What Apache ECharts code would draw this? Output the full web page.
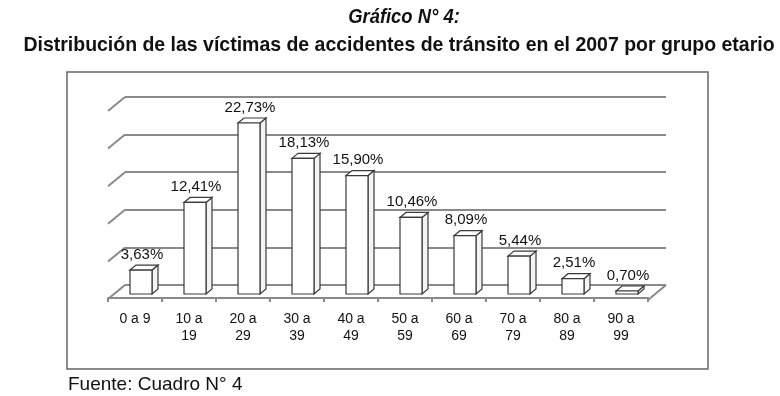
<!DOCTYPE html>
<html>
<head>
<meta charset="utf-8">
<script src="https://cdn.jsdelivr.net/npm/echarts@6/dist/echarts.min.js"></script>
<style>
  html, body { margin: 0; padding: 0; background: #fff; }
  #chart { width: 780px; height: 396px; }
</style>
</head>
<body>
<div id="chart"></div>
<script>
// datos del grafico
const grupos = ["0 a 9", "10 a\n19", "20 a\n29", "30 a\n39", "40 a\n49", "50 a\n59", "60 a\n69", "70 a\n79", "80 a\n89", "90 a\n99"];
const porcentajes = [3.63, 12.41, 22.73, 18.13, 15.90, 10.46, 8.09, 5.44, 2.51, 0.70];
const marcasEje = [0, 5, 10, 15, 20, 25];

const chart = echarts.init(document.getElementById("chart"));

const borde = "#3a3a3a";
const gris = "#8a8a8a";

function fmt(v) {
  return v.toFixed(2).replace(".", ",") + "%";
}

const option = {
  animation: false,
  backgroundColor: "#fff",
  title: {
    text: "Fuente: Cuadro N° 4",
    left: 68,
    top: 375,
    padding: 0,
    textStyle: { fontFamily: "Liberation Sans", fontWeight: "normal", fontSize: 19, color: "#111" },
  },
  graphic: [
    {
      type: "text",
      x: 404,
      y: 17,
      scaleX: 0.92,
      style: {
        text: "Gráfico N° 4:",
        align: "center",
        verticalAlign: "middle",
        font: "italic bold 20px 'Liberation Sans'",
        fill: "#111",
      },
    },
    {
      type: "text",
      x: 399,
      y: 45,
      scaleX: 0.95,
      style: {
        text: "Distribución de las víctimas de accidentes de tránsito en el 2007 por grupo etario",
        align: "center",
        verticalAlign: "middle",
        font: "bold 20.5px 'Liberation Sans'",
        fill: "#111",
      },
    },
    {
      type: "rect",
      z: -1,
      shape: { x: 67, y: 72, width: 641, height: 297 },
      style: { fill: "none", stroke: "#666", lineWidth: 1.5 },
    },
  ],
  grid: [
    // plano frontal (barras)
    { left: 108, right: 132, top: 105.5, bottom: 98 },
    // pared del fondo (lineas de division)
    { left: 125, right: 114, top: 97, bottom: 111 },
  ],
  xAxis: [
    {
      type: "category",
      gridIndex: 0,
      data: grupos,
      offset: 2,
      axisLine: { lineStyle: { color: gris, width: 2 } },
      axisTick: { show: true, length: 4, lineStyle: { color: gris, width: 2 } },
      axisLabel: {
        interval: 0,
        margin: 11,
        fontFamily: "Liberation Sans",
        fontSize: 14,
        lineHeight: 17,
        color: "#111",
      },
    },
    { type: "category", gridIndex: 1, data: grupos, show: false },
  ],
  yAxis: [
    { type: "value", gridIndex: 0, min: 0, max: 25, interval: 5, show: false },
    {
      type: "value",
      gridIndex: 1,
      min: 0,
      max: 25,
      interval: 5,
      axisLine: { show: false },
      axisTick: { show: false },
      axisLabel: { show: false },
      splitLine: { show: true, lineStyle: { color: gris, width: 2 } },
    },
  ],
  series: [
    {
      // diagonales del lado izquierdo y del piso
      type: "custom",
      xAxisIndex: 1,
      yAxisIndex: 1,
      silent: true,
      data: marcasEje.map((t) => [0, t]),
      renderItem(params, api) {
        const p = api.coord([0, api.value(1)]);
        const cs = params.coordSys;
        const children = [
          {
            type: "line",
            shape: { x1: cs.x, y1: p[1], x2: cs.x - 17, y2: p[1] + 14 },
            style: { stroke: gris, lineWidth: 2 },
          },
        ];
        if (api.value(1) === 0) {
          children.push({
            type: "line",
            shape: { x1: cs.x + cs.width, y1: p[1], x2: cs.x + cs.width - 18, y2: p[1] + 15 },
            style: { stroke: gris, lineWidth: 2 },
          });
        }
        return { type: "group", children };
      },
    },
    {
      type: "custom",
      xAxisIndex: 0,
      yAxisIndex: 0,
      data: porcentajes.map((v, i) => [i, v]),
      renderItem(params, api) {
        const v = api.value(1);
        const top = api.coord([api.value(0), v]);
        const base = api.coord([api.value(0), 0]);
        const w = 22;
        const dx = 6;
        const dy = -5;
        const x0 = top[0] - 5;
        const y1 = base[1] - 4;
        const y0 = Math.min(top[1], y1 - 3);
        const st = { fill: "#fff", stroke: borde, lineWidth: 1.2 };
        return {
          type: "group",
          children: [
            {
              type: "polygon",
              shape: { points: [[x0 + w, y0], [x0 + w + dx, y0 + dy], [x0 + w + dx, y1 + dy], [x0 + w, y1]] },
              style: { fill: "#f4f4f4", stroke: borde, lineWidth: 1.2 },
            },
            {
              type: "polygon",
              shape: { points: [[x0, y0], [x0 + dx, y0 + dy], [x0 + w + dx, y0 + dy], [x0 + w, y0]] },
              style: st,
            },
            {
              type: "rect",
              shape: { x: x0, y: y0, width: w, height: y1 - y0 },
              style: st,
            },
            {
              type: "text",
              style: {
                text: fmt(v),
                x: x0 + w / 2 + 1,
                y: y0 + dy - 3,
                align: "center",
                verticalAlign: "bottom",
                fontFamily: "Liberation Sans",
                fontSize: 15,
                fill: "#111",
              },
            },
          ],
        };
      },
    },
  ],
};

chart.setOption(option);
</script>
</body>
</html>
